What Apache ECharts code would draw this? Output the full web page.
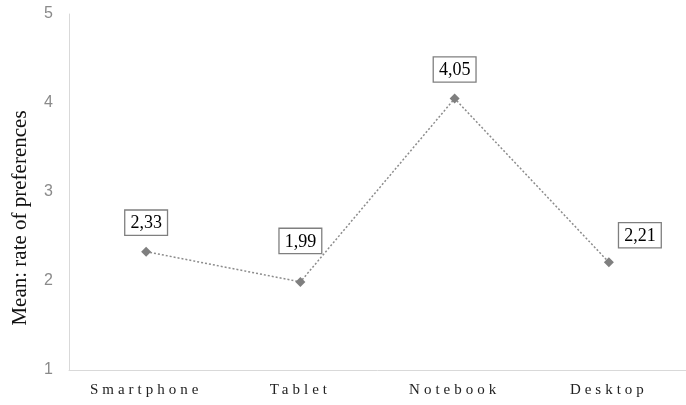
<!DOCTYPE html>
<html>
<head>
<meta charset="utf-8">
<script src="https://cdn.jsdelivr.net/npm/echarts@6/dist/echarts.min.js"></script>
<style>
  html, body { margin: 0; padding: 0; background: #fff; }
  #chart { width: 686px; height: 405px; }
</style>
</head>
<body>
<div id="chart"></div>
<script>
// Devices and their mean preference rates
const categories = ['Smartphone', 'Tablet', 'Notebook', 'Desktop'];
const meanRates = [2.33, 1.99, 4.05, 2.21];
const yTicks = [1, 2, 3, 4, 5];

// Where each value box sits relative to its marker
const labelOffsets = [[0, 0], [0, -12], [0, 0], [31, 2]];

const SERIF = 'Liberation Serif';
const SANS = 'Liberation Sans';

const fmt = v => v.toFixed(2).replace('.', ',');

// Category names are drawn with wide letter spacing, all other text without
const baseFillText = CanvasRenderingContext2D.prototype.fillText;
CanvasRenderingContext2D.prototype.fillText = function (text, x, y, maxWidth) {
  this.letterSpacing = categories.includes(text) ? '4px' : '0px';
  const r = maxWidth === undefined
    ? baseFillText.call(this, text, x, y)
    : baseFillText.call(this, text, x, y, maxWidth);
  this.letterSpacing = '0px';
  return r;
};

const chart = echarts.init(document.getElementById('chart'), null, { renderer: 'canvas' });

chart.setOption({
  animation: false,
  grid: { left: 69, top: 14, width: 624, height: 356, containLabel: false },
  xAxis: {
    type: 'category',
    data: categories,
    boundaryGap: true,
    axisLine: { lineStyle: { color: '#d9d9d9', width: 1 } },
    axisTick: { show: false },
    axisLabel: {
      margin: 13,
      color: '#222',
      fontFamily: SERIF,
      fontSize: 15
    }
  },
  yAxis: {
    type: 'value',
    min: yTicks[0],
    max: yTicks[yTicks.length - 1],
    interval: 1,
    name: 'Mean: rate of preferences',
    nameLocation: 'middle',
    nameGap: 38,
    nameRotate: 90,
    nameTextStyle: {
      fontFamily: SERIF,
      fontSize: 21,
      color: '#111',
      padding: [0, 52, 0, 0]
    },
    axisLine: { show: true, lineStyle: { color: '#d9d9d9', width: 1 } },
    axisTick: { show: false },
    splitLine: { show: false },
    axisLabel: {
      margin: 16,
      color: '#8a8a8a',
      fontFamily: SANS,
      fontSize: 16
    }
  },
  series: [{
    type: 'line',
    data: meanRates.map((v, i) => ({
      value: v,
      label: { offset: labelOffsets[i] }
    })),
    symbol: 'diamond',
    symbolSize: 10,
    itemStyle: { color: '#7f7f7f' },
    lineStyle: { color: '#8c8c8c', width: 1.5, type: [2, 2] },
    label: {
      show: true,
      position: 'top',
      distance: 12,
      formatter: p => fmt(p.value),
      color: '#000',
      fontFamily: SERIF,
      fontSize: 18,
      backgroundColor: '#fff',
      borderColor: '#7f7f7f',
      borderWidth: 1.3,
      padding: [4, 5, 2, 5]
    }
  }]
});
</script>
</body>
</html>
